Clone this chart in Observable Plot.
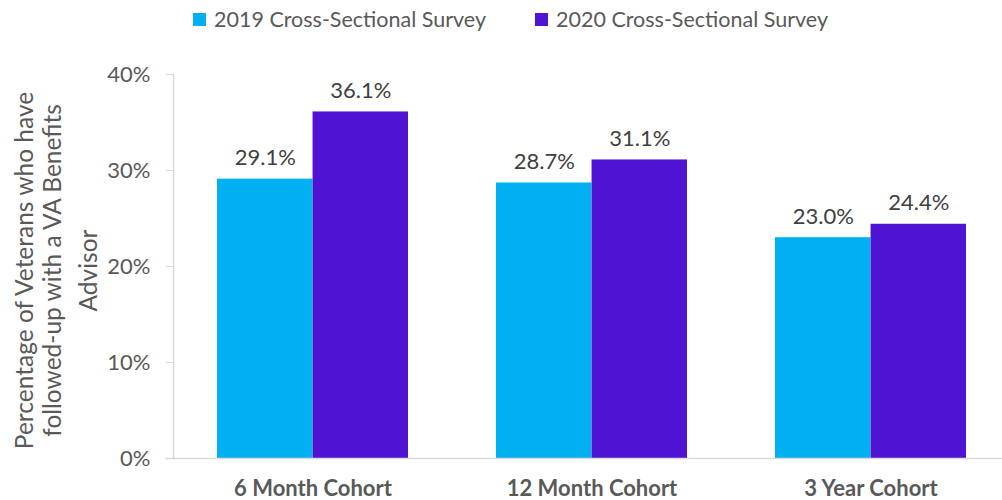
<!DOCTYPE html>
<html>
<head>
<meta charset="utf-8">
<script src="https://cdn.jsdelivr.net/npm/d3@7"></script>
<script src="https://cdn.jsdelivr.net/npm/@observablehq/plot@0.6"></script>
<style>
  html, body { margin: 0; padding: 0; background: #fff; overflow: hidden; }
  body { width: 1002px; height: 500px; font-family: Lato, "Open Sans", sans-serif; }
  #legend { position: relative; height: 40px; width: 1002px; }
  .item { position: absolute; top: 6px; display: flex; align-items: center; font-size: 21.5px; color: #595959; white-space: nowrap; }
  .sw { width: 13px; height: 13px; margin-right: 8px; }
  #chart svg { display: block; }
</style>
</head>
<body>
<div id="legend"></div>
<div id="chart"></div>
<script>
const categories = ["6 Month Cohort", "12 Month Cohort", "3 Year Cohort"];
const seriesNames = ["2019 Cross-Sectional Survey", "2020 Cross-Sectional Survey"];
const values2019 = [29.1, 28.7, 23.0];
const values2020 = [36.1, 31.1, 24.4];
const seriesColors = ["#00B0F0", "#4F14D3"];
const yTicks = [0, 10, 20, 30, 40];
const yLabelLines = ["Percentage of Veterans who have", "followed-up with a VA Benefits", "Advisor"];

// legend
const legendLefts = [193, 535];
const legend = document.getElementById("legend");
seriesNames.forEach((s, i) => {
  const it = document.createElement("div");
  it.className = "item";
  it.style.left = legendLefts[i] + "px";
  const sw = document.createElement("span");
  sw.className = "sw";
  sw.style.background = seriesColors[i];
  const tx = document.createElement("span");
  tx.textContent = s;
  it.appendChild(sw); it.appendChild(tx);
  legend.appendChild(it);
});

const data2019 = categories.map((c, i) => ({cat: c, series: seriesNames[0], value: values2019[i]}));
const data2020 = categories.map((c, i) => ({cat: c, series: seriesNames[1], value: values2020[i]}));

const width = 1002, marginLeft = 173, marginRight = -8;
const pInner = 0.315, pOuter = 0.1575;
const step = (width - marginLeft - marginRight) / (categories.length - pInner + 2 * pOuter);
const bw = step * (1 - pInner);
const half = bw / 2;
const fmt = d => d.toFixed(1) + "%";
const fs = 22;
const fsLabel = 24.5;

const chart = Plot.plot({
  width, height: 460,
  marginTop: 34, marginBottom: 42, marginLeft, marginRight,
  style: {fontFamily: "Lato, 'Open Sans', sans-serif", fontSize: fs + "px", background: "#fff"},
  x: {domain: categories, paddingInner: pInner, paddingOuter: pOuter},
  y: {domain: [0, 40]},
  marks: [
    Plot.barY(data2019, {x: "cat", y: "value", fill: seriesColors[0], insetRight: half}),
    Plot.barY(data2020, {x: "cat", y: "value", fill: seriesColors[1], insetLeft: half}),
    Plot.text(data2019, {x: "cat", y: "value", text: d => fmt(d.value), dx: -bw / 4, dy: -14, lineAnchor: "bottom", fill: "#404040", fontSize: fs}),
    Plot.text(data2020, {x: "cat", y: "value", text: d => fmt(d.value), dx: bw / 4, dy: -14, lineAnchor: "bottom", fill: "#404040", fontSize: fs}),
    Plot.ruleY([0], {stroke: "#d9d9d9", strokeWidth: 1.5, insetLeft: -8}),
    Plot.frame({anchor: "left", stroke: "#d9d9d9", strokeWidth: 1.5}),
    Plot.axisY({ticks: yTicks, tickFormat: d => d + "%", tickSize: 7, tickPadding: 16, stroke: "#d9d9d9", fill: "#595959", fontSize: fs, label: null}),
    Plot.axisX({tickSize: 0, tickPadding: 22, fill: "#595959", fontSize: fs, fontWeight: "bold", label: null}),
    Plot.text([yLabelLines[0]], {text: d => d, frameAnchor: "left", textAnchor: "middle", rotate: -90, dx: -148, dy: 4, fill: "#595959", fontSize: fsLabel}),
    Plot.text([yLabelLines[1]], {text: d => d, frameAnchor: "left", textAnchor: "middle", rotate: -90, dx: -120, dy: 4, fill: "#595959", fontSize: fsLabel}),
    Plot.text([yLabelLines[2]], {text: d => d, frameAnchor: "left", textAnchor: "middle", rotate: -90, dx: -84, dy: 4, fill: "#595959", fontSize: fsLabel})
  ]
});
document.getElementById("chart").appendChild(chart);
</script>
</body>
</html>
